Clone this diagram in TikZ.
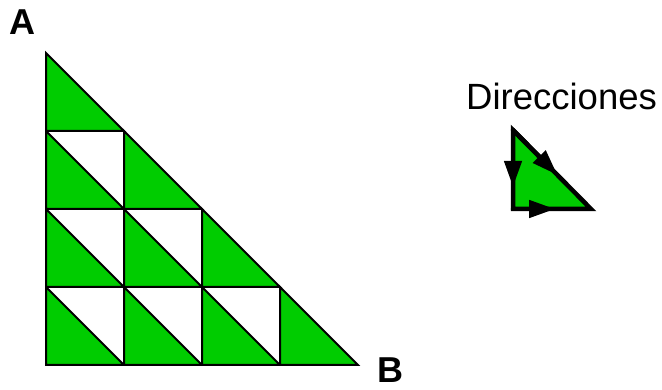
\documentclass[tikz,border=0pt]{standalone}
\usepackage{fontspec}
\setmainfont{Liberation Sans}
\usetikzlibrary{arrows.meta,calc}
\definecolor{ink}{HTML}{000000}
\definecolor{cellgreen}{HTML}{00CC00}
\tikzset{
  cell/.style={draw=ink, fill=cellgreen, line width=2pt, line join=miter},
  dirline/.style={draw=ink, line width=4.5pt, line cap=round},
  dirarrow/.style={dirline, -{Triangle[length=26pt, width=17pt]}},
  corner/.style={inner sep=0pt, anchor=base west, font=\fontsize{36}{43}\selectfont\bfseries},
  caption/.style={inner sep=0pt, anchor=base west, font=\fontsize{36.5}{44}\selectfont}
}
\begin{document}
\begin{tikzpicture}[x=1pt, y=-1pt]
  \useasboundingbox (0,0) rectangle (662,390);

  \draw[cell] (46,53) -- (46,131) -- (124,131) -- cycle;
  \draw[cell] (46,131) -- (46,209) -- (124,209) -- cycle;
  \draw[cell] (124,131) -- (124,209) -- (202,209) -- cycle;
  \draw[cell] (46,209) -- (46,287) -- (124,287) -- cycle;
  \draw[cell] (124,209) -- (124,287) -- (202,287) -- cycle;
  \draw[cell] (202,209) -- (202,287) -- (280,287) -- cycle;
  \draw[cell] (46,287) -- (46,365) -- (124,365) -- cycle;
  \draw[cell] (124,287) -- (124,365) -- (202,365) -- cycle;
  \draw[cell] (202,287) -- (202,365) -- (280,365) -- cycle;
  \draw[cell] (280,287) -- (280,365) -- (358,365) -- cycle;

  \node[corner] (a) at (9,35) {A};
  \node[corner] (b) at (377,382) {B};

  \node[caption] (dir) at (466,110) {Direcciones};

  \coordinate (d1) at (513,130);
  \coordinate (d2) at (513,209);
  \coordinate (d3) at (591,209);
  \fill[cellgreen] (d1) -- (d2) -- (d3) -- cycle;
  \draw[dirline] (d1) -- (d2) -- (d3) -- cycle;
  \draw[dirarrow] (d1) -- ($(d1)!0.72!(d2)$);
  \draw[dirarrow] (d2) -- ($(d2)!0.54!(d3)$);
  \draw[dirarrow] (d1) -- ($(d1)!0.57!(d3)$);
\end{tikzpicture}
\end{document}
